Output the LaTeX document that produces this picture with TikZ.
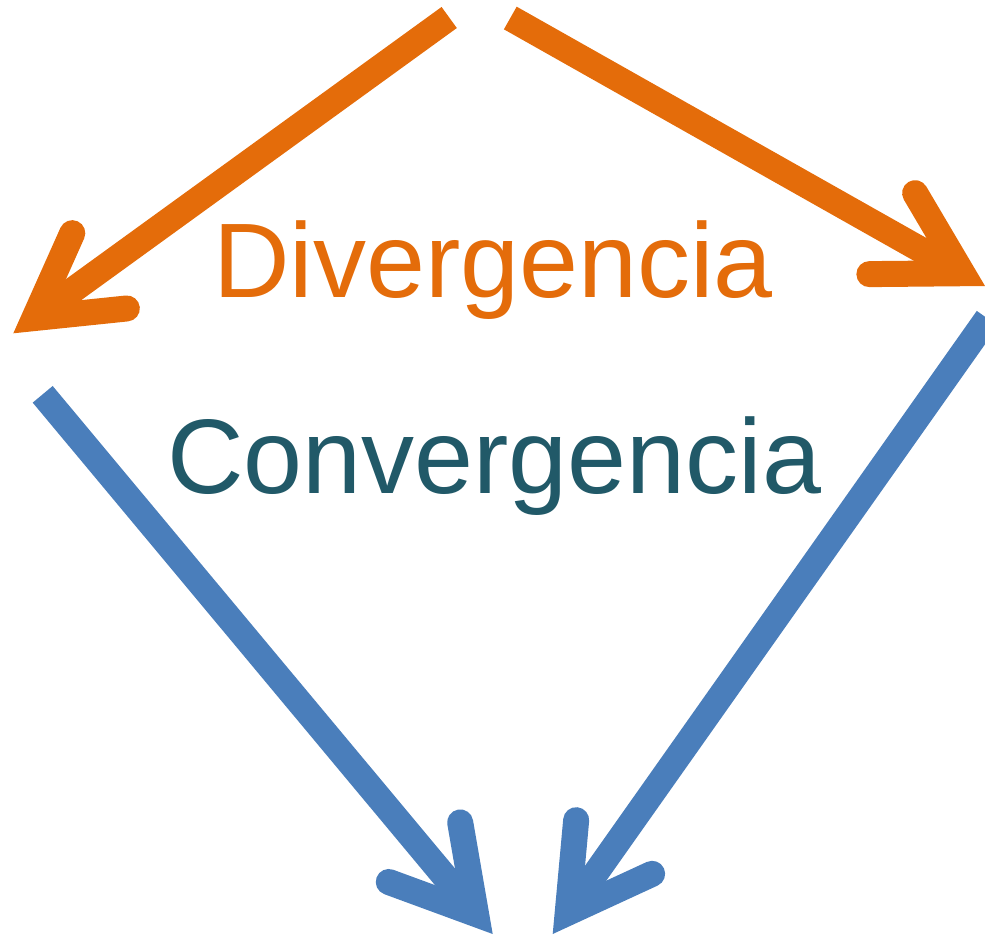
\documentclass[tikz,border=0pt]{standalone}
\usepackage{fontspec}
\setmainfont{Liberation Sans}
\usetikzlibrary{calc}
\definecolor{divorange}{HTML}{E46C0A}
\definecolor{convteal}{HTML}{215968}
\definecolor{convblue}{HTML}{4A7EBB}
\tikzset{
  shaft/.style={line width=26pt, line cap=butt},
  barbs/.style={line width=26pt, line cap=round, line join=miter},
  bigtext/.style={inner sep=0pt, anchor=base west, font=\fontsize{106}{120}\selectfont}
}
\newcommand{\bigarrow}[3]{% start, outer tip, colour
  \coordinate (T) at ($(#2)!26pt!(#1)$);
  \draw[shaft, #3] (#1) -- (T);
  \draw[barbs, #3] ($(T)!93pt!30:(#1)$) -- (T) -- ($(T)!93pt!-30:(#1)$);
}
\begin{document}
\begin{tikzpicture}[x=1pt, y=-1pt]
  \useasboundingbox (0,0) rectangle (985,935);
  % coordinates
  \coordinate (s1) at (449.2,17.5);
  \coordinate (o1) at (13.3,333.3);
  \coordinate (s2) at (510.3,18);
  \coordinate (o2) at (985,286);
  \coordinate (s3) at (42.7,394.3);
  \coordinate (o3) at (492.7,934);
  \coordinate (s4) at (987.4,318.4);
  \coordinate (o4) at (552.7,934);
  % arrows
  \bigarrow{s1}{o1}{divorange}
  \bigarrow{s2}{o2}{divorange}
  \bigarrow{s3}{o3}{convblue}
  \bigarrow{s4}{o4}{convblue}
  % texts
  \node[bigtext, text=divorange] (div) at (213,297) {Divergencia};
  \node[bigtext, text=convteal] (conv) at (167,493) {Convergencia};
\end{tikzpicture}
\end{document}
